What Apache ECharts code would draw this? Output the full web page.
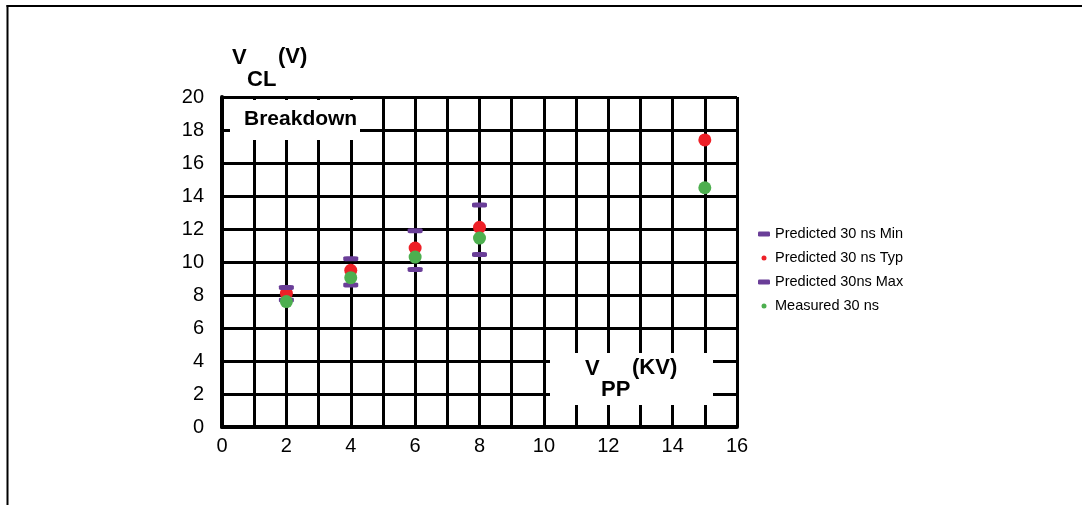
<!DOCTYPE html>
<html>
<head>
<meta charset="utf-8">
<script src="https://cdn.jsdelivr.net/npm/echarts@6/dist/echarts.min.js"></script>
<style>
html,body{margin:0;padding:0;background:#fff;}
#chart{width:1082px;height:505px;}
</style>
</head>
<body>
<div id="chart"></div>
<script>
// ---- data ----
const xValues = [2, 4, 6, 8, 15];
const predMin = [7.7, 8.6, 9.55, 10.45, null];
const predTyp = [8.1, 9.5, 10.85, 12.1, 17.4];
const predMax = [8.45, 10.2, 11.9, 13.45, null];
const measured = [7.6, 9.05, 10.3, 11.45, 14.5];
const seriesNames = ['Predicted 30 ns Min', 'Predicted 30 ns Typ', 'Predicted 30ns Max', 'Measured 30 ns'];
const xTickLabels = ['0', '2', '4', '6', '8', '10', '12', '14', '16'];

const FONT = '"Liberation Sans", Arial, Helvetica, sans-serif';
const PURPLE = '#6a3e98', RED = '#ee2027', GREEN = '#4daf4f';

function pairs(vals) {
  const out = [];
  vals.forEach((v, i) => { if (v !== null) out.push([xValues[i], v]); });
  return out;
}

const chart = echarts.init(document.getElementById('chart'), null, {renderer: 'canvas'});

const option = {
  animation: false,
  backgroundColor: '#fff',
  grid: {left: 222, right: 345, top: 97, bottom: 78, containLabel: false},
  xAxis: {
    type: 'value', min: 0, max: 16, interval: 1,
    axisLine: {show: true, lineStyle: {color: '#000', width: 4}},
    axisTick: {show: false},
    axisLabel: {
      margin: 9, color: '#000', fontSize: 20, fontFamily: FONT,
      formatter: v => (xTickLabels.indexOf(String(v)) >= 0 ? String(v) : '')
    },
    splitLine: {show: true, lineStyle: {color: '#000', width: 3}}
  },
  yAxis: {
    type: 'value', min: 0, max: 20, interval: 2,
    axisLine: {show: true, lineStyle: {color: '#000', width: 4}},
    axisTick: {show: false},
    axisLabel: {margin: 18, color: '#000', fontSize: 20, fontFamily: FONT},
    splitLine: {show: true, lineStyle: {color: '#000', width: 3}}
  },
  legend: {
    orient: 'vertical', left: 753, top: 221,
    itemWidth: 12, itemHeight: 5, itemGap: 8,
    textStyle: {fontSize: 14.5, lineHeight: 16, color: '#000', fontFamily: FONT},
    data: [
      {name: seriesNames[0], icon: 'roundRect'},
      {name: seriesNames[1], icon: 'circle'},
      {name: seriesNames[2], icon: 'roundRect'},
      {name: seriesNames[3], icon: 'circle'}
    ]
  },
  series: [
    {name: seriesNames[0], type: 'scatter', data: pairs(predMin), symbol: 'roundRect', symbolSize: [15, 5], itemStyle: {color: PURPLE, opacity: 1}},
    {name: seriesNames[1], type: 'scatter', data: pairs(predTyp), symbol: 'circle', symbolSize: 13, itemStyle: {color: RED, opacity: 1}},
    {name: seriesNames[2], type: 'scatter', data: pairs(predMax), symbol: 'roundRect', symbolSize: [15, 5], itemStyle: {color: PURPLE, opacity: 1}},
    {name: seriesNames[3], type: 'scatter', data: pairs(measured), symbol: 'circle', symbolSize: 13, itemStyle: {color: GREEN, opacity: 1}}
  ],
  graphic: [
    // frame
    {type: 'line', shape: {x1: 6.5, y1: 6, x2: 1082, y2: 6}, style: {stroke: '#000', lineWidth: 2}},
    {type: 'line', shape: {x1: 7.5, y1: 5, x2: 7.5, y2: 505}, style: {stroke: '#000', lineWidth: 2}},
    // y-axis title
    {type: 'text', left: 232, top: 47, style: {text: 'V', font: 'bold 22px ' + FONT, fill: '#000'}},
    {type: 'text', left: 247, top: 69, style: {text: 'CL', font: 'bold 22px ' + FONT, fill: '#000'}},
    {type: 'text', left: 278, top: 46, style: {text: '(V)', font: 'bold 22px ' + FONT, fill: '#000'}},
    // Breakdown box
    {type: 'rect', shape: {x: 230, y: 100, width: 130, height: 40}, style: {fill: '#fff'}, z: 50},
    {type: 'text', left: 244, top: 109, z: 51, style: {text: 'Breakdown', font: 'bold 21px ' + FONT, fill: '#000'}},
    // x-axis title box
    {type: 'rect', shape: {x: 550, y: 353, width: 163, height: 52}, style: {fill: '#fff'}, z: 50},
    {type: 'text', left: 585, top: 358, z: 51, style: {text: 'V', font: 'bold 22px ' + FONT, fill: '#000'}},
    {type: 'text', left: 601, top: 379, z: 51, style: {text: 'PP', font: 'bold 22px ' + FONT, fill: '#000'}},
    {type: 'text', left: 632, top: 357, z: 51, style: {text: '(KV)', font: 'bold 22px ' + FONT, fill: '#000'}}
  ]
};
chart.setOption(option);
</script>
</body>
</html>
